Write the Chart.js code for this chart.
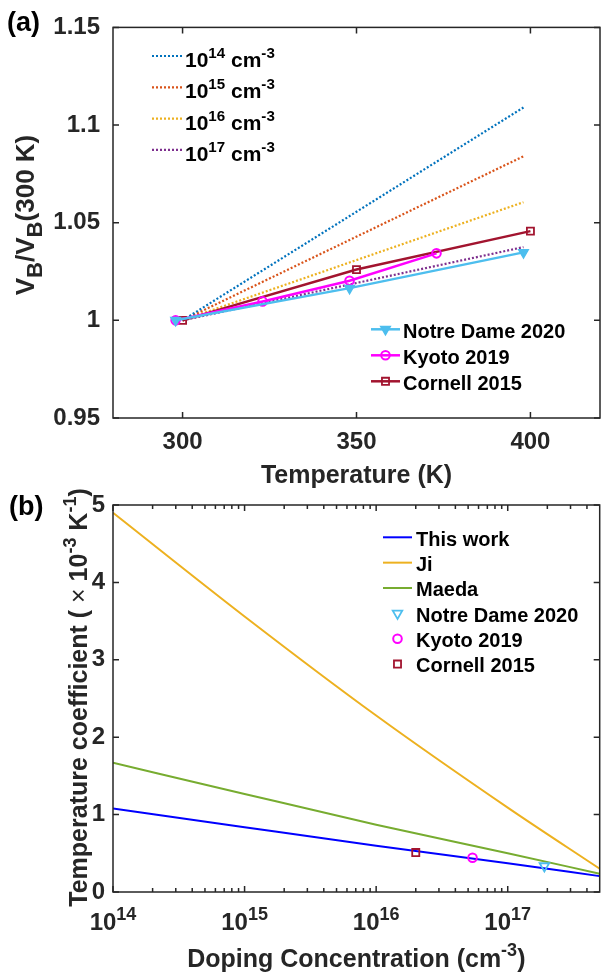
<!DOCTYPE html>
<html>
<head>
<meta charset="utf-8">
<script src="https://cdn.jsdelivr.net/npm/chart.js@4.4.0/dist/chart.umd.min.js"></script>
<style>
  html, body { margin: 0; padding: 0; background: #fff; }
  body { position: relative; width: 607px; height: 975px; overflow: hidden; }
  canvas { position: absolute; left: 0; }
</style>
</head>
<body>
<canvas id="chartA" width="607" height="500" style="top:0"></canvas>
<canvas id="chartB" width="607" height="515" style="top:460px"></canvas>
<script>
// (a) V_B normalised to 300 K vs temperature
const tempTicks = [300, 350, 400];
const ratioTicks = [0.95, 1, 1.05, 1.1, 1.15];

const modelTemps = [300, 398];
const model1e14 = [1, 1.109];
const model1e15 = [1, 1.084];
const model1e16 = [1, 1.0605];
const model1e17 = [1, 1.0375];

const notreDameTemps = [298, 348, 398];
const notreDameRatio = [1, 1.0165, 1.0348];
const kyotoTemps = [298, 323, 348, 373];
const kyotoRatio = [1, 1.0097, 1.0203, 1.0343];
const cornellTemps = [300, 350, 400];
const cornellRatio = [1, 1.026, 1.0457];

// (b) temperature coefficient vs doping
const dopingTicks = [1e14, 1e15, 1e16, 1e17];
const coeffTicks = [0, 1, 2, 3, 4, 5];
const dopingGrid = [1e14, 1e15, 1e16, 1e17, 5e17];
const thisWork = [1.08, 0.837, 0.597, 0.37, 0.205];
const jiModel = [4.90, 3.56, 2.28, 1.09, 0.30];
const maedaModel = [1.67, 1.267, 0.87, 0.50, 0.237];
const notreDameN = [1.9e17];
const notreDameCoeff = [0.336];
const kyotoN = [5.4e16];
const kyotoCoeff = [0.443];
const cornellN = [2e16];
const cornellCoeff = [0.51];

const FONT = '"Liberation Sans", Arial, Helvetica, sans-serif';
const INK = '#262626';

const pairs = (xs, ys) => xs.map((x, i) => ({ x, y: ys[i] }));

function setFont(ctx, size, weight) {
  ctx.font = (weight || 'bold') + ' ' + size + 'px ' + FONT;
}

function richWidth(ctx, segs, size, script) {
  let w = 0;
  for (const [t, pos, weight] of segs) {
    setFont(ctx, pos ? size * script : size, weight);
    w += ctx.measureText(t).width;
  }
  return w;
}

// segs: [text, 'sup' | 'sub' | undefined, weight]
function drawRich(ctx, segs, x, y, size, align, script) {
  script = script || 0.72;
  let cx = align === 'center' ? x - richWidth(ctx, segs, size, script) / 2 : x;
  ctx.textAlign = 'left';
  ctx.textBaseline = 'alphabetic';
  for (const [t, pos, weight] of segs) {
    setFont(ctx, pos ? size * script : size, weight);
    const dy = pos === 'sup' ? -0.43 * size : pos === 'sub' ? 0.32 * size : 0;
    ctx.fillText(t, cx, y + dy);
    cx += ctx.measureText(t).width;
  }
}

// box with inward ticks on all four sides
const framePlugin = {
  id: 'frame',
  afterDatasetsDraw(chart, args, o) {
    const { ctx, chartArea: a } = chart;
    const xs = chart.scales.x, ys = chart.scales.y;
    ctx.save();
    ctx.strokeStyle = INK;
    ctx.lineWidth = 1.5;
    ctx.beginPath();
    const marks = xs.ticks.map(t => [t.value, o.tickLen]);
    if (o.logMinor) {
      xs.ticks.forEach(t => {
        for (let k = 2; k < 10; k++) {
          if (k * t.value < xs.max) marks.push([k * t.value, o.minorLen]);
        }
      });
    }
    marks.forEach(([v, len]) => {
      const px = xs.getPixelForValue(v);
      ctx.moveTo(px, a.bottom); ctx.lineTo(px, a.bottom - len);
      ctx.moveTo(px, a.top); ctx.lineTo(px, a.top + len);
    });
    ys.ticks.forEach(t => {
      const py = ys.getPixelForValue(t.value);
      ctx.moveTo(a.left, py); ctx.lineTo(a.left + o.tickLen, py);
      ctx.moveTo(a.right, py); ctx.lineTo(a.right - o.tickLen, py);
    });
    ctx.stroke();
    ctx.strokeRect(a.left, a.top, a.right - a.left, a.bottom - a.top);
    ctx.restore();
  }
};

// axis titles, panel letter, power-of-ten tick labels
const textPlugin = {
  id: 'panelText',
  afterDraw(chart, args, o) {
    const { ctx, chartArea: a } = chart;
    ctx.save();
    ctx.fillStyle = '#000';
    drawRich(ctx, [[o.panel]], o.panelX, o.panelY, 27, 'left');
    ctx.fillStyle = INK;
    const cx = (a.left + a.right) / 2;
    drawRich(ctx, o.xTitle, cx, o.xTitleY, 25, 'center');
    if (o.powerTicks) {
      const xs = chart.scales.x;
      xs.ticks.forEach(t => {
        const e = Math.round(Math.log10(t.value));
        drawRich(ctx, [['10'], [String(e), 'sup']], xs.getPixelForValue(t.value), o.powerTicksY, 24, 'center', 0.75);
      });
    }
    ctx.translate(o.yTitleX, o.yTitleY);
    ctx.rotate(-Math.PI / 2);
    drawRich(ctx, o.yTitle, 0, 0, o.yTitleSize || 25, 'center', o.yScript);
    ctx.restore();
  }
};

// legends placed inside the axes
const legendPlugin = {
  id: 'insideLegend',
  afterDraw(chart, args, o) {
    const ctx = chart.ctx;
    o.groups.forEach(g => {
      g.items.forEach((it, i) => {
        const ds = chart.data.datasets[it.index];
        const y = g.y + i * g.step;
        ctx.save();
        if (it.line) {
          ctx.strokeStyle = ds.borderColor;
          ctx.lineWidth = ds.borderWidth;
          ctx.setLineDash(ds.borderDash || []);
          ctx.beginPath();
          ctx.moveTo(g.x, y);
          ctx.lineTo(g.x + g.len, y);
          ctx.stroke();
          ctx.setLineDash([]);
        }
        if (ds.pointRadius > 0) {
          ctx.strokeStyle = ds.borderColor;
          ctx.fillStyle = ds.backgroundColor;
          ctx.lineWidth = ds.pointBorderWidth;
          Chart.helpers.drawPoint(ctx, {
            pointStyle: ds.pointStyle,
            rotation: ds.pointRotation || 0,
            radius: ds.pointRadius,
            borderWidth: ds.pointBorderWidth
          }, g.x + g.len / 2, y);
        }
        ctx.fillStyle = '#000';
        drawRich(ctx, it.text, g.x + g.len + g.gap, y + g.base, g.size, 'left');
        ctx.restore();
      });
    });
  }
};

const tickFont = { family: FONT, size: 24, weight: 'bold' };
const hidden = { grid: { display: false, drawTicks: false }, border: { display: false } };

const dotted = (label, ys, color) => ({
  label, data: pairs(modelTemps, ys), borderColor: color, backgroundColor: color,
  borderWidth: 2.2, borderDash: [2, 2], pointRadius: 0, tension: 0
});

const chartA = new Chart(document.getElementById('chartA'), {
  type: 'line',
  data: {
    datasets: [
      {
        label: 'Notre Dame 2020', data: pairs(notreDameTemps, notreDameRatio),
        borderColor: '#4DBEEE', backgroundColor: '#4DBEEE', borderWidth: 2.5,
        pointStyle: 'triangle', pointRotation: 180, pointRadius: 5.5, pointBorderWidth: 1.5, tension: 0
      },
      {
        label: 'Kyoto 2019', data: pairs(kyotoTemps, kyotoRatio),
        borderColor: '#FF00FF', backgroundColor: 'rgba(0,0,0,0)', borderWidth: 2.5,
        pointStyle: 'circle', pointRadius: 4.3, pointBorderWidth: 2, tension: 0
      },
      {
        label: 'Cornell 2015', data: pairs(cornellTemps, cornellRatio),
        borderColor: '#A2142F', backgroundColor: 'rgba(0,0,0,0)', borderWidth: 2.5,
        pointStyle: 'rect', pointRadius: 5, pointBorderWidth: 1.8, tension: 0
      },
      dotted('1e14', model1e14, '#0072BD'),
      dotted('1e15', model1e15, '#D95319'),
      dotted('1e16', model1e16, '#EDB120'),
      dotted('1e17', model1e17, '#7E2F8E')
    ]
  },
  options: {
    responsive: false,
    animation: false,
    layout: { padding: { top: 17, right: 2, left: 0, bottom: 0 } },
    scales: {
      x: {
        type: 'linear', min: 280, max: 420, ...hidden,
        afterBuildTicks: s => { s.ticks = tempTicks.map(v => ({ value: v })); },
        afterFit: s => { s.height = 82; },
        ticks: { font: tickFont, color: INK, padding: 10, maxRotation: 0 }
      },
      y: {
        type: 'linear', min: 0.95, max: 1.15, ...hidden,
        afterBuildTicks: s => { s.ticks = ratioTicks.map(v => ({ value: v })); },
        afterFit: s => { s.width = 113; },
        ticks: { font: tickFont, color: INK, padding: 13, callback: v => String(+v.toFixed(2)) }
      }
    },
    plugins: {
      legend: { display: false },
      tooltip: { enabled: false },
      frame: { tickLen: 6 },
      panelText: {
        panel: '(a)', panelX: 7, panelY: 31,
        xTitle: [['Temperature (K)']], xTitleY: 483,
        yTitle: [['V'], ['B', 'sub'], ['/V'], ['B', 'sub'], ['(300 K)']],
        yTitleX: 34, yTitleY: 215, yTitleSize: 26, yScript: 0.85
      },
      insideLegend: {
        groups: [
          {
            x: 152, len: 30, gap: 3, y: 56, step: 31.3, base: 11, size: 21,
            items: [3, 4, 5, 6].map((index, i) => ({
              index, line: true,
              text: [['10'], [String(14 + i), 'sup'], [' cm'], ['-3', 'sup']]
            }))
          },
          {
            x: 371, len: 29, gap: 3, y: 329.3, step: 26, base: 8.5, size: 20,
            items: [
              { index: 0, line: true, text: [['Notre Dame 2020']] },
              { index: 1, line: true, text: [['Kyoto 2019']] },
              { index: 2, line: true, text: [['Cornell 2015']] }
            ]
          }
        ]
      }
    }
  },
  plugins: [framePlugin, textPlugin, legendPlugin]
});

const curve = (label, ys, color) => ({
  label, data: pairs(dopingGrid, ys), borderColor: color, backgroundColor: color,
  borderWidth: 2, pointRadius: 0, cubicInterpolationMode: 'monotone', showLine: true
});

const chartB = new Chart(document.getElementById('chartB'), {
  type: 'line',
  data: {
    datasets: [
      {
        label: 'Notre Dame 2020', data: pairs(notreDameN, notreDameCoeff), showLine: false,
        borderColor: '#4DBEEE', backgroundColor: 'rgba(0,0,0,0)',
        pointStyle: 'triangle', pointRotation: 180, pointRadius: 5.5, pointBorderWidth: 1.8
      },
      {
        label: 'Kyoto 2019', data: pairs(kyotoN, kyotoCoeff), showLine: false,
        borderColor: '#FF00FF', backgroundColor: 'rgba(0,0,0,0)',
        pointStyle: 'circle', pointRadius: 4.3, pointBorderWidth: 2
      },
      {
        label: 'Cornell 2015', data: pairs(cornellN, cornellCoeff), showLine: false,
        borderColor: '#A2142F', backgroundColor: 'rgba(0,0,0,0)',
        pointStyle: 'rect', pointRadius: 5, pointBorderWidth: 1.8
      },
      curve('This work', thisWork, '#0000FF'),
      curve('Ji', jiModel, '#EDB120'),
      curve('Maeda', maedaModel, '#77AC30')
    ]
  },
  options: {
    responsive: false,
    animation: false,
    layout: { padding: { top: 45, right: 2, left: 0, bottom: 0 } },
    scales: {
      x: {
        type: 'logarithmic', min: 1e14, max: 5e17, ...hidden,
        afterBuildTicks: s => { s.ticks = dopingTicks.map(v => ({ value: v })); },
        afterFit: s => { s.height = 83; },
        ticks: { display: false }
      },
      y: {
        type: 'linear', min: 0, max: 5, ...hidden,
        afterBuildTicks: s => { s.ticks = coeffTicks.map(v => ({ value: v })); },
        afterFit: s => { s.width = 113; },
        ticks: { font: tickFont, color: INK, padding: 8 }
      }
    },
    plugins: {
      legend: { display: false },
      tooltip: { enabled: false },
      frame: { tickLen: 6, minorLen: 4, logMinor: true },
      panelText: {
        panel: '(b)', panelX: 9, panelY: 55,
        xTitle: [['Doping Concentration (cm'], ['-3', 'sup'], [')']], xTitleY: 507,
        powerTicks: true, powerTicksY: 470,
        yTitle: [['Temperature coefficient ( '], ['\u00D7', null, 'normal'], [' 10'], ['-3', 'sup'], [' K'], ['-1', 'sup'], [')']],
        yTitleX: 87, yTitleY: 237.5, yTitleSize: 25
      },
      insideLegend: {
        groups: [
          {
            x: 383, len: 29, gap: 4, y: 77.3, step: 25.35, base: 8.4, size: 20,
            items: [
              { index: 3, line: true, text: [['This work']] },
              { index: 4, line: true, text: [['Ji']] },
              { index: 5, line: true, text: [['Maeda']] },
              { index: 0, line: false, text: [['Notre Dame 2020']] },
              { index: 1, line: false, text: [['Kyoto 2019']] },
              { index: 2, line: false, text: [['Cornell 2015']] }
            ]
          }
        ]
      }
    }
  },
  plugins: [framePlugin, textPlugin, legendPlugin]
});
</script>
</body>
</html>
